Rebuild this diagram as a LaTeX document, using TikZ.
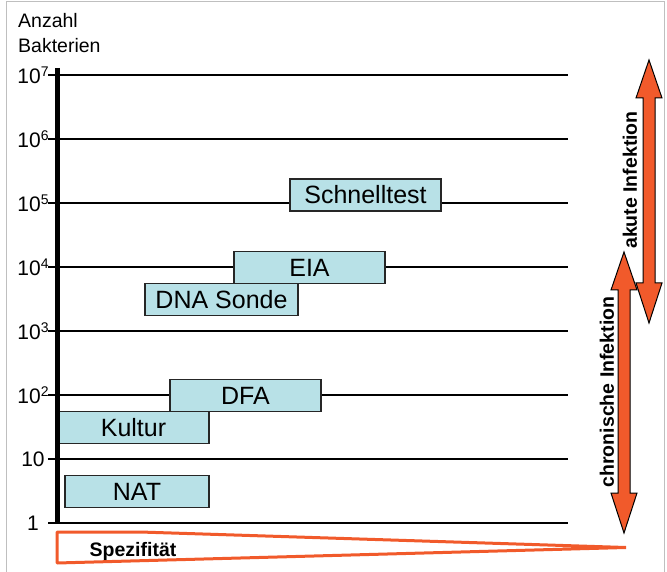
\documentclass[tikz,border=0pt]{standalone}
\usepackage{fontspec}
\setmainfont{Liberation Sans}
\usetikzlibrary{positioning}
\definecolor{testblue}{HTML}{B8E1E7}
\definecolor{infred}{HTML}{F15A2B}
\tikzset{
  testbox/.style={draw=black!85, line width=1.3pt, fill=testblue, minimum width=151pt,
    minimum height=32pt, inner sep=0pt, font=\fontsize{25}{30}\selectfont},
  level/.style={line width=1.2pt},
  infarrow/.style={fill=infred, draw=black, line width=1pt},
  lab/.style={inner sep=0pt, font=\fontsize{19.5}{25}\selectfont},
  blab/.style={inner sep=0pt, font=\bfseries\fontsize{19.5}{25}\selectfont}
}
\newcommand{\hoch}[1]{10\raisebox{.6ex}{\fontsize{14}{14}\selectfont #1}}

\begin{document}
\begin{tikzpicture}[x=1pt,y=-1pt]
\useasboundingbox (0,0) rectangle (667,572);
\draw[black!25, line width=1pt] (6.5,572) -- (6.5,2) -- (664.5,2) -- (664.5,572);
% levels 1 ... 10^7
\foreach \k/\txt in {0/1, 1/10, 2/\hoch{2}, 3/\hoch{3}, 4/\hoch{4}, 5/\hoch{5}, 6/\hoch{6}, 7/\hoch{7}} {
  \draw[level] (48,523-64*\k) -- (568,523-64*\k);
  \node[lab, font=\fontsize{21}{25}\selectfont] at (33,523-64*\k) {\txt};
}
\node[lab, align=left, anchor=north west] (ylab) at (18,13) {Anzahl\\Bakterien};
% tests
\node[testbox] (schnell) at (365.5,195) {Schnelltest};
\node[testbox] (eia) at (309.5,267.5) {EIA};
\node[testbox, minimum width=153pt] (dna) at (221.5,299.5) {DNA Sonde};
\node[testbox] (dfa) at (245.5,395.5) {DFA};
\node[testbox] (kultur) at (133.5,427.5) {Kultur};
\node[testbox, minimum width=144pt] (nat) at (137,491.5) {NAT};
\draw[line width=5pt] (57.5,68) coordinate (top) -- (57.5,523) coordinate (o);
% infection ranges
\foreach \cx/\ya/\yb in {624/252/533, 649/60/323} {
  \filldraw[infarrow] (\cx,\ya) -- (\cx+13,\ya+38) -- (\cx+6,\ya+38) -- (\cx+6,\yb-40)
    -- (\cx+13,\yb-40) -- (\cx,\yb) -- (\cx-13,\yb-40) -- (\cx-6,\yb-40)
    -- (\cx-6,\ya+38) -- (\cx-13,\ya+38) -- cycle;
}
\node[blab, rotate=90] (akut) at (630,180) {akute Infektion};
\node[blab, rotate=90] (chron) at (607,392) {chronische Infektion};
% specificity wedge
\draw[infred, line width=3pt, line join=bevel] (57,532) -- (140,532) -- (626,547.5) -- (57,563) -- cycle;
\node[blab, font=\bfseries\fontsize{19.5}{24}\selectfont] (spez) at (133,551) {Spezifität};
\end{tikzpicture}
\end{document}
